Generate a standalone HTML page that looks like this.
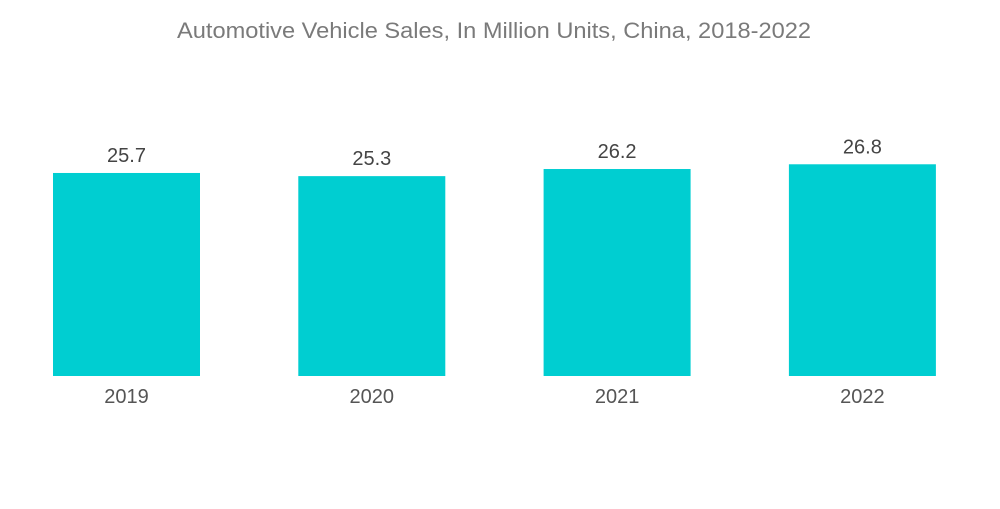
<!DOCTYPE html>
<html>
<head>
<meta charset="utf-8">
<style>
  html,body{margin:0;padding:0;background:#fff;}
  body{width:1000px;height:504px;overflow:hidden;font-family:"Liberation Sans",sans-serif;}
</style>
</head>
<body>
<svg width="1000" height="504" viewBox="0 0 1000 504">
  <text x="494" y="38" text-anchor="middle" font-size="22" fill="#7a7a7a" textLength="634" lengthAdjust="spacingAndGlyphs">Automotive Vehicle Sales, In Million Units, China, 2018-2022</text>
  <g id="bars"></g>
</svg>
<script>
const categories = ["2019", "2020", "2021", "2022"];
const values = [25.7, 25.3, 26.2, 26.8];
const valueLabels = ["25.7", "25.3", "26.2", "26.8"];

const svgNS = "http://www.w3.org/2000/svg";
const g = document.getElementById("bars");
const baseY = 376, pxPerUnit = 7.9;
const firstX = 53, step = 245.3, barW = 147;
function xScale(i){ return firstX + i * step; }
function yScale(v){ return baseY - v * pxPerUnit; }

categories.forEach((c, i) => {
  const x = xScale(i), y = yScale(values[i]);
  const r = document.createElementNS(svgNS, "rect");
  r.setAttribute("x", x); r.setAttribute("y", y);
  r.setAttribute("width", barW); r.setAttribute("height", baseY - y);
  r.setAttribute("fill", "#00ced1");
  
  
  g.appendChild(r);

  const t = document.createElementNS(svgNS, "text");
  t.setAttribute("x", x + barW / 2); t.setAttribute("y", y - 11);
  t.setAttribute("text-anchor", "middle"); t.setAttribute("font-size", "20");
  t.setAttribute("fill", "#444");
  t.textContent = valueLabels[i];
  
  
  g.appendChild(t);

  const l = document.createElementNS(svgNS, "text");
  l.setAttribute("x", x + barW / 2); l.setAttribute("y", 403);
  l.setAttribute("text-anchor", "middle"); l.setAttribute("font-size", "20");
  l.setAttribute("fill", "#555");
  l.textContent = c;
  
  
  g.appendChild(l);
});
</script>
</body>
</html>
